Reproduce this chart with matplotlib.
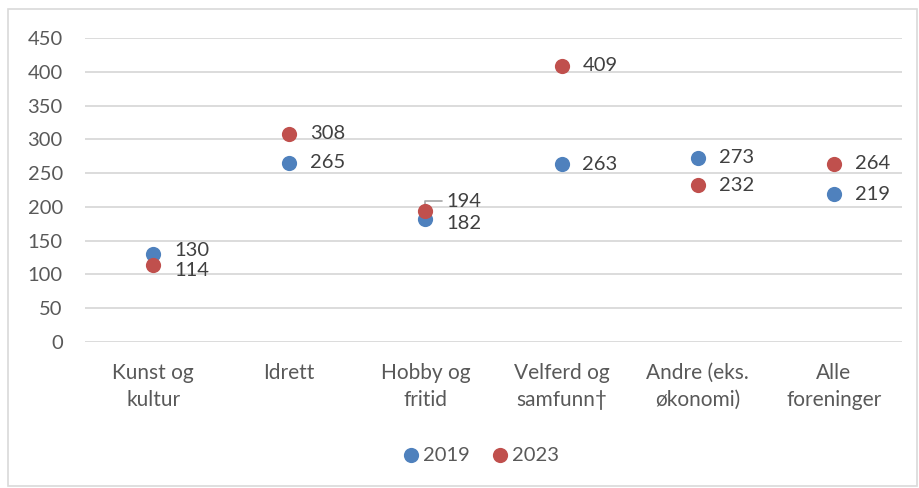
import matplotlib.pyplot as plt
from matplotlib.patches import Rectangle

plt.rcParams['font.family'] = ['Lato', 'DejaVu Sans']

kategorier = ['Kunst og\nkultur', 'Idrett', 'Hobby og\nfritid', 'Velferd og\nsamfunn†',
              'Andre (eks.\nøkonomi)', 'Alle\nforeninger']
v2019 = [130, 265, 182, 263, 273, 219]
v2023 = [114, 308, 194, 409, 232, 264]

blaa = '#4F81BD'
roed = '#C0504D'
tekst = '#595959'

fig = plt.figure(figsize=(9.19, 4.88), dpi=100)
ax = fig.add_axes([85 / 919, 1 - 342 / 488, 817 / 919, 304 / 488])

x = list(range(len(kategorier)))
ax.scatter(x, v2019, s=120, color=blaa, zorder=3, label='2019', linewidths=0)
ax.scatter(x, v2023, s=120, color=roed, zorder=4, label='2023', linewidths=0)

# etiketter, små justeringer der de overlapper
forskyv2019 = {0: 3, 2: -3}
forskyv2023 = {0: -4, 2: 7}
for i in x:
    ax.annotate(str(v2019[i]), (i, v2019[i]), xytext=(15, forskyv2019.get(i, 0)),
                textcoords='offset points', va='center', ha='left',
                fontsize=14.5, color='#404040')
    if i == 2:
        ax.annotate(str(v2023[i]), (i, v2023[i]), xytext=(15, forskyv2023[i]),
                    textcoords='offset points', va='center', ha='left',
                    fontsize=14.5, color='#404040',
                    arrowprops=dict(arrowstyle='-', color='#a6a6a6', lw=1.2,
                                    shrinkA=1, shrinkB=4,
                                    connectionstyle='angle,angleA=0,angleB=90,rad=0'))
    else:
        ax.annotate(str(v2023[i]), (i, v2023[i]), xytext=(15, forskyv2023.get(i, 0)),
                    textcoords='offset points', va='center', ha='left',
                    fontsize=14.5, color='#404040')

ax.set_xlim(-0.5, len(kategorier) - 0.5)
ax.set_ylim(0, 450)
ax.set_yticks(range(0, 451, 50))
ax.set_xticks(x)
ax.set_xticklabels(kategorier, fontsize=15, color=tekst, linespacing=1.45)
ax.tick_params(axis='y', length=0, pad=16, labelsize=14.5, labelcolor=tekst)
ax.tick_params(axis='x', length=0, pad=15)
ax.grid(axis='y', color='#d9d9d9', lw=1.3, zorder=0)
ax.set_axisbelow(True)
for s in ax.spines.values():
    s.set_visible(False)

fig.legend(loc='center', bbox_to_anchor=(475 / 919, 1 - 455 / 488), ncol=2,
           frameon=False, fontsize=14.5, labelcolor=tekst, handletextpad=-0.4,
           columnspacing=0.5, markerscale=1.0)

fig.patches.append(Rectangle((8 / 919, 2 / 488), 909 / 919, 477 / 488,
                             transform=fig.transFigure, fill=False,
                             edgecolor='#d9d9d9', lw=1.2))

fig.savefig('out.png', dpi=100)
